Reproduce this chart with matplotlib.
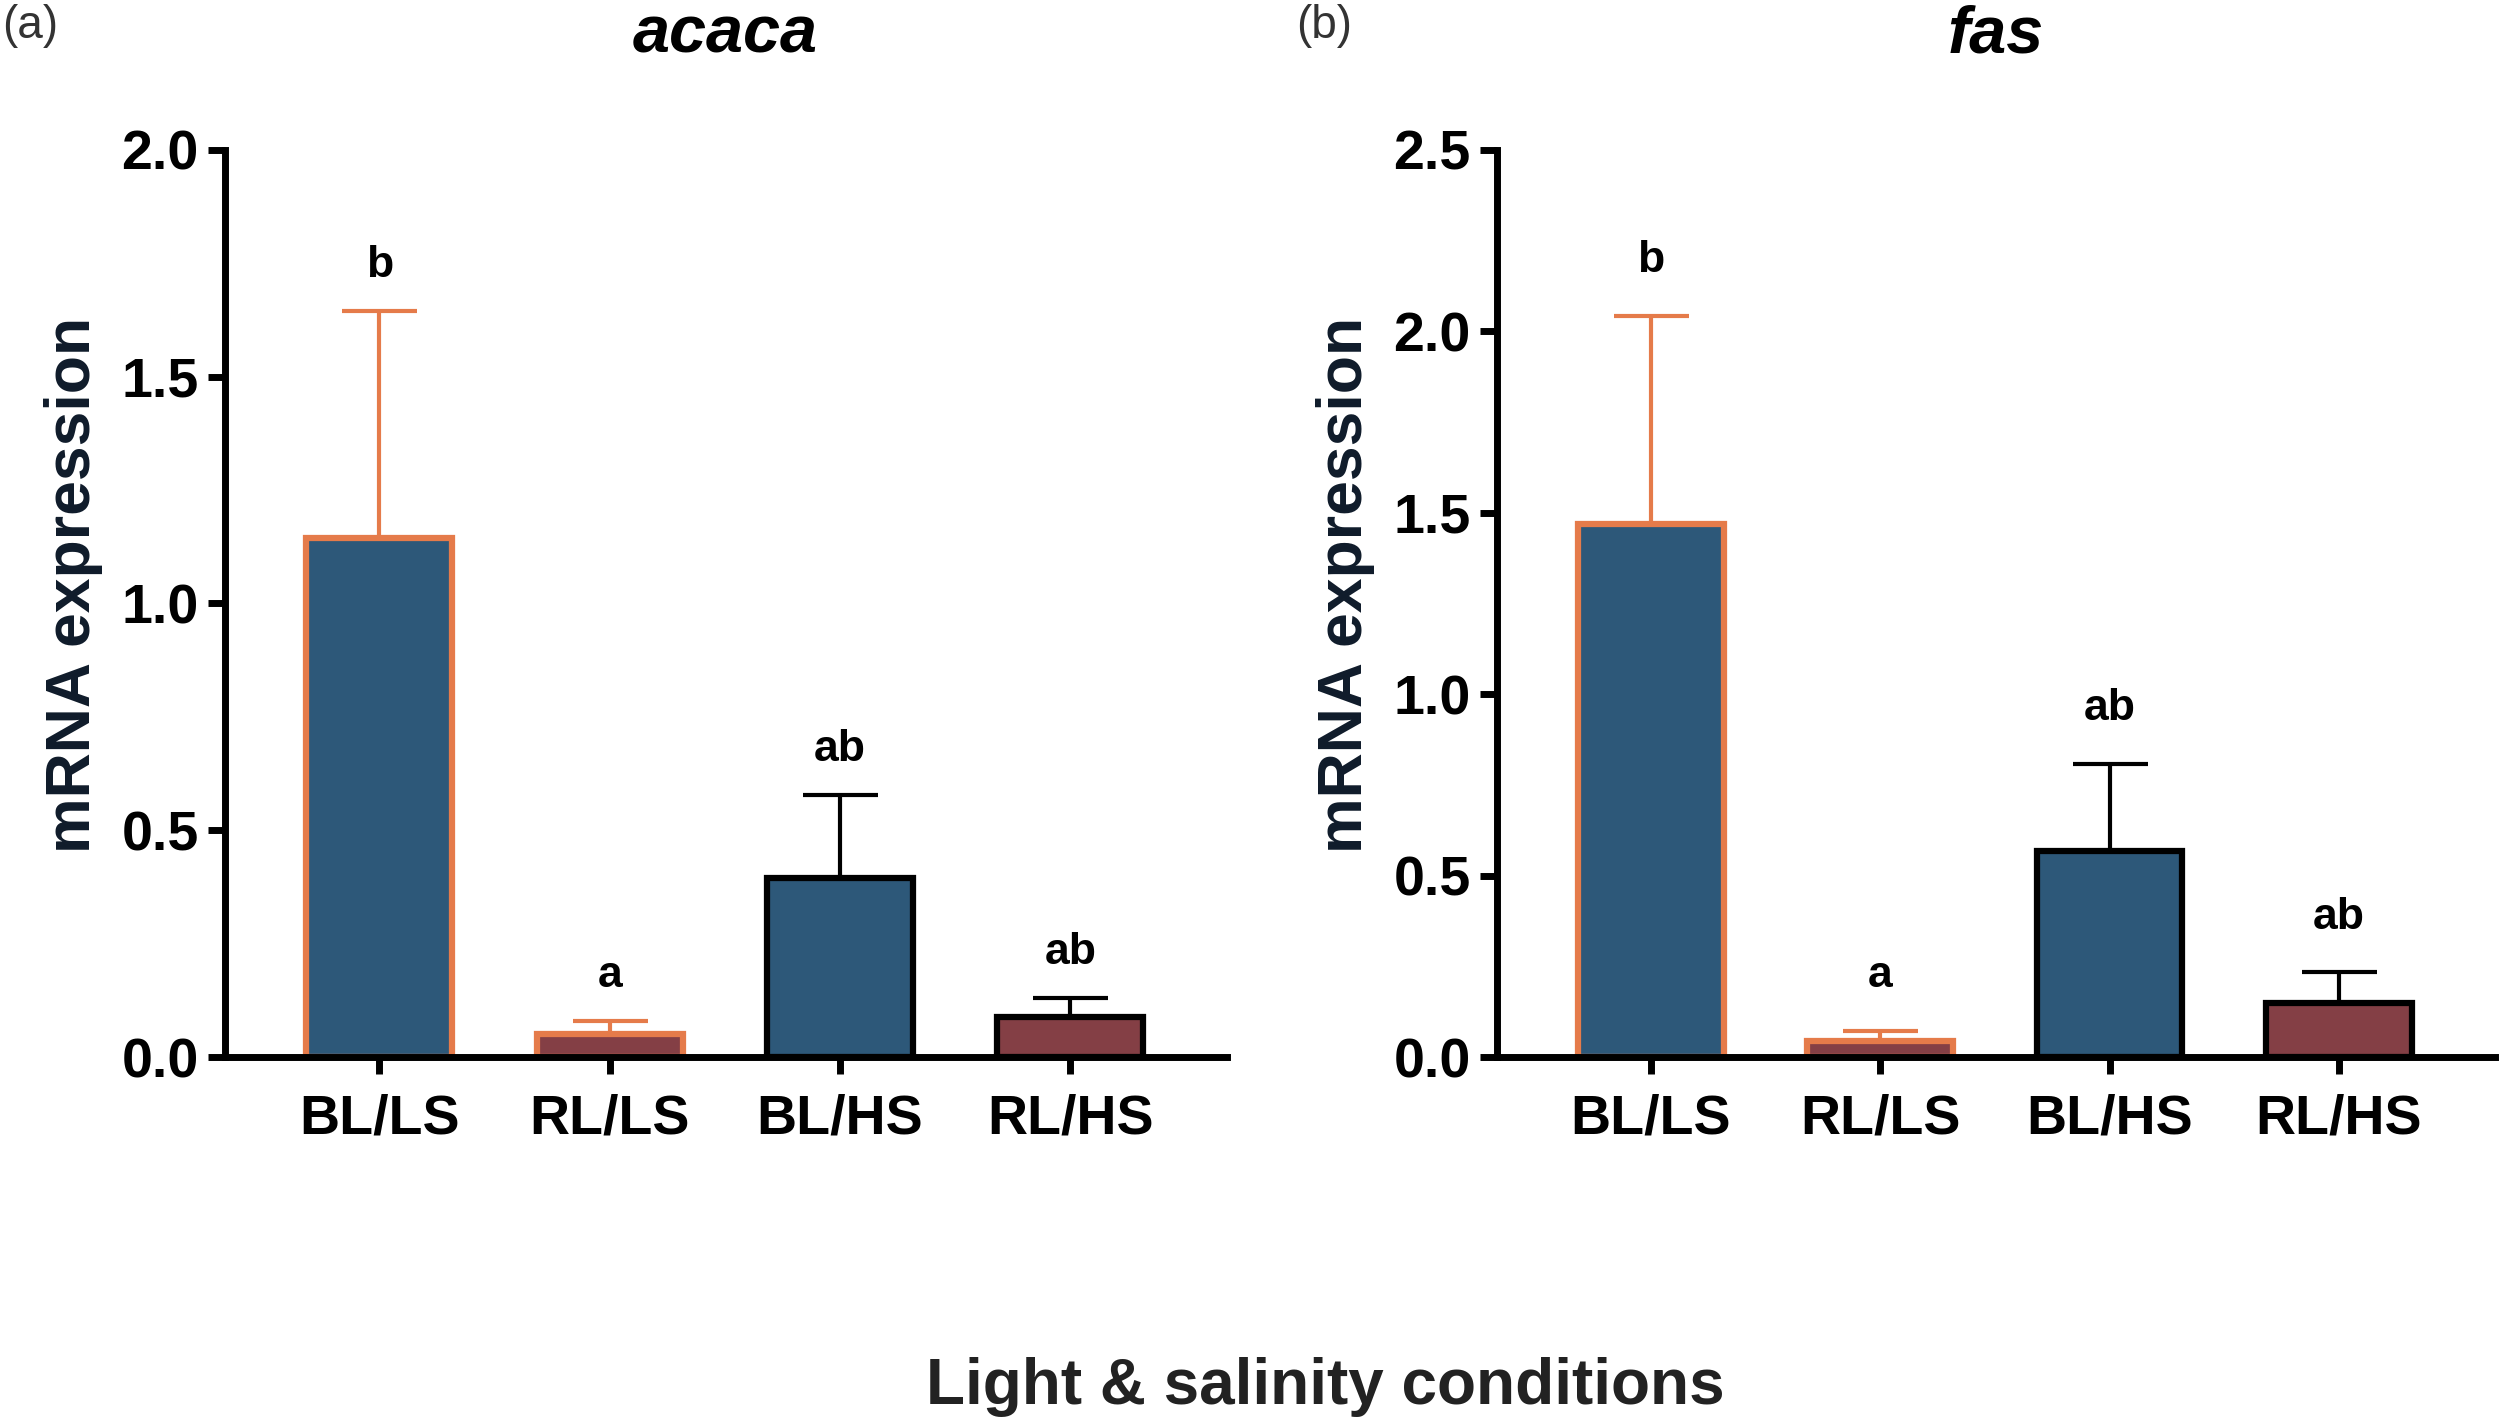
import matplotlib
matplotlib.use('Agg')
import numpy as np
import matplotlib.pyplot as plt

plt.rcParams['font.family'] = ['Liberation Sans', 'DejaVu Sans']

# data
groups = ['BL/LS', 'RL/LS', 'BL/HS', 'RL/HS']
acaca_mean = [1.145, 0.05, 0.395, 0.088]
acaca_err = [0.50, 0.03, 0.182, 0.042]
fas_mean = [1.468, 0.045, 0.568, 0.148]
fas_err = [0.575, 0.028, 0.24, 0.085]
letters_acaca = ['b', 'a', 'ab', 'ab']
letters_fas = ['b', 'a', 'ab', 'ab']

fills = ['#2d5879', '#843f45', '#2d5879', '#843f45']
edges = ['#e57b4a', '#e57b4a', '#000000', '#000000']

fig = plt.figure(figsize=(25, 14.28), dpi=100)
ax1 = fig.add_axes([0.090, 0.2598, 0.4008, 0.6352])
ax2 = fig.add_axes([0.5988, 0.2598, 0.3992, 0.6352])


def draw(ax, means, errs, letters, ymax, ticks, off):
    x = np.arange(len(groups))
    for i in range(len(groups)):
        ax.errorbar(x[i], means[i], yerr=[[0], [errs[i]]], fmt='none',
                    ecolor=edges[i], elinewidth=3, capsize=27, capthick=3,
                    zorder=1)
        ax.bar(x[i], means[i], width=0.635, color=fills[i],
               edgecolor=edges[i], linewidth=4.5, zorder=2)
        ax.annotate(letters[i], (x[i], means[i] + errs[i]),
                    xytext=(0, off), textcoords='offset points',
                    ha='center', va='bottom', fontsize=32,
                    fontweight='bold', color='black')
    ax.set_xlim(-0.67, 3.68)
    ax.set_ylim(0, ymax)
    ax.set_yticks(ticks)
    ax.set_yticklabels(['%.1f' % t for t in ticks])
    ax.set_xticks(x)
    ax.set_xticklabels(groups)
    for s in ['top', 'right']:
        ax.spines[s].set_visible(False)
    for s in ['left', 'bottom']:
        ax.spines[s].set_linewidth(5)
        ax.spines[s].set_capstyle('projecting')
    ax.tick_params(axis='both', width=5, length=12, labelsize=40)
    ax.tick_params(axis='x', pad=14)
    ax.tick_params(axis='y', pad=7)
    for lab in ax.get_xticklabels() + ax.get_yticklabels():
        lab.set_fontweight('bold')
    ax.set_ylabel('mRNA expression', fontsize=45, fontweight='bold',
                  color='#0f1b2a')
    ax.yaxis.set_label_coords(-0.122, 0.52)


draw(ax1, acaca_mean, acaca_err, letters_acaca, 2.0,
     [0.0, 0.5, 1.0, 1.5, 2.0], 18)
draw(ax2, fas_mean, fas_err, letters_fas, 2.5,
     [0.0, 0.5, 1.0, 1.5, 2.0, 2.5], 25)

# gene names above each panel
fig.text(0.2902, 0.975, 'acaca', fontsize=48, fontweight='bold',
         style='italic', ha='center', va='center')
fig.text(0.7984, 0.975, 'fas', fontsize=48, fontweight='bold',
         style='italic', ha='center', va='center')

fig.text(0.001, 0.997, '(a)', fontsize=33, color='#333333', va='top', ha='left')
fig.text(0.5185, 0.997, '(b)', fontsize=33, color='#333333', va='top', ha='left')
fig.text(0.530, 0.029, 'Light & salinity conditions', fontsize=46,
         fontweight='bold', color='#222222', ha='center', va='center')

fig.savefig('out.png', dpi=100)
